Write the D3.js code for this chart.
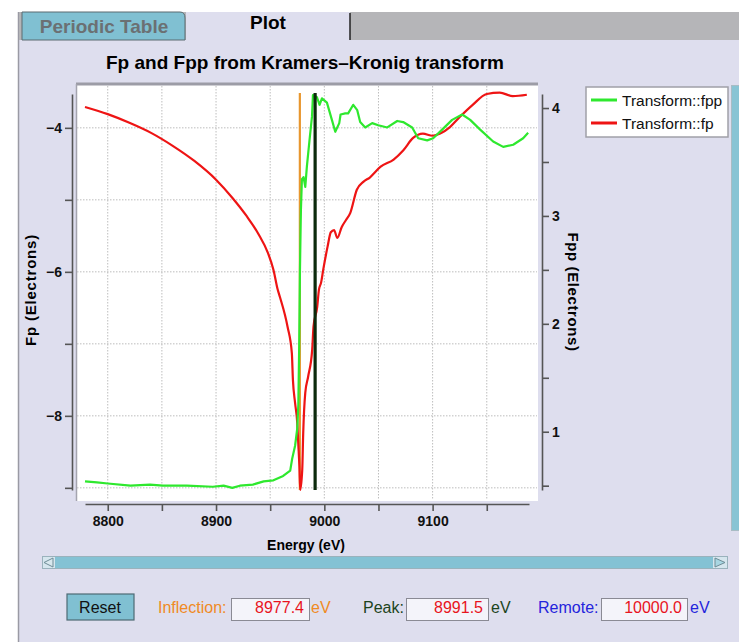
<!DOCTYPE html>
<html>
<head>
<meta charset="utf-8">
<script src="https://cdn.jsdelivr.net/npm/d3@7"></script>
<style>
  body { margin: 0; background: #ffffff; }
  svg { display: block; font-family: "Liberation Sans", Arial, sans-serif; }
</style>
</head>
<body>
<div id="chart-container"></div>
<script>
// fp (left axis)
const fpEnergy = [8779, 8800, 8820, 8840, 8860, 8880, 8900, 8915, 8928, 8939, 8948,
  8953, 8957, 8959, 8966, 8970, 8971, 8973, 8975, 8976, 8977, 8977.7, 8979.6, 8980.5, 8982.4, 8985,
  8988.8, 8990, 8993.4, 8995, 8997, 8999, 9003, 9006, 9009, 9012, 9016, 9020, 9024, 9030, 9036, 9042,
  9052, 9064, 9073, 9082, 9091, 9100, 9107, 9116, 9125, 9137, 9150, 9162, 9174, 9187];
const fpValues = [-3.71, -3.81, -3.93, -4.07, -4.25, -4.46, -4.72, -4.97, -5.22, -5.47, -5.74,
  -5.97, -6.25, -6.35, -6.76, -7.13, -7.5, -7.82, -8.1, -8.4, -8.71, -9.03, -8.75, -8.24, -7.68, -7.46,
  -7.08, -6.76, -6.49, -6.25, -6.15, -5.97, -5.65, -5.45, -5.42, -5.53, -5.38, -5.28, -5.18, -4.86, -4.75, -4.69,
  -4.54, -4.44, -4.31, -4.14, -4.08, -4.11, -4.08, -3.99, -3.85, -3.68, -3.53, -3.51, -3.56, -3.54];

// fpp (right axis)
const fppEnergy = [8779, 8790, 8800, 8821, 8839, 8851, 8873, 8897, 8907, 8915, 8922, 8934, 8944, 8953,
  8962, 8968.5, 8970.3, 8973, 8975, 8976, 8976.8, 8977.5, 8978.2, 8978.4, 8979.3, 8980.8, 8982.4, 8983.9,
  8986.3, 8988.6, 8989.5, 8993.2, 8995.6, 8997.8, 9002.4, 9007, 9010.1, 9013.8, 9015, 9019.3, 9022, 9026.7,
  9030.4, 9033.1, 9037.8, 9044.2, 9049.8, 9058.1, 9067.3, 9072.8, 9081.1, 9086.7, 9095, 9100.5, 9108.8,
  9118, 9127.3, 9134.7, 9143.9, 9155.9, 9165.2, 9174.4, 9183.6, 9188.2];
const fppValues = [0.54, 0.53, 0.52, 0.5, 0.51, 0.5, 0.5, 0.49, 0.5, 0.48, 0.5, 0.51, 0.54, 0.55,
  0.59, 0.64, 0.75, 0.87, 1.03, 1.25, 1.8, 2.5, 2.95, 3.06, 3.34, 3.36, 3.27, 3.46,
  3.7, 3.92, 4.12, 4.1, 4.03, 4.09, 4.05, 3.89, 3.78, 3.86, 3.94, 3.95, 3.95, 4.03,
  3.98, 3.87, 3.82, 3.86, 3.84, 3.82, 3.88, 3.87, 3.82, 3.72, 3.7, 3.72, 3.8,
  3.89, 3.94, 3.89, 3.8, 3.69, 3.64, 3.66, 3.72, 3.77];

const markerNames = ["Inflection", "Peak", "Remote"];
const markerEnergies = [8977.4, 8991.5, 10000.0];
const markerColors = ["#e8962e", "#0c2a0c", "#2020e0"];

const xTicks = [8800, 8900, 9000, 9100];
const fpTicks = [-4, -6, -8];
const fppTicks = [1, 2, 3, 4];
const seriesNames = ["Transform::fpp", "Transform::fp"];

const width = 739;
const height = 642;
const bg = "#dedeee";
const plot = { left: 85, right: 529, top: 94, bottom: 490 };

const svg = d3.select("#chart-container")
  .append("svg")
  .attr("width", width)
  .attr("height", height);

// window chrome
svg.append("rect").attr("x", 19).attr("y", 40).attr("width", width - 19).attr("height", height - 40).attr("fill", bg);
svg.append("line").attr("x1", 18.5).attr("x2", 18.5).attr("y1", 12).attr("y2", height).attr("stroke", "#9a9aa4").attr("stroke-width", 1.5);
svg.append("rect").attr("x", 19).attr("y", 12).attr("width", width - 19).attr("height", 28).attr("fill", "#b5b5b8");
svg.append("path")
  .attr("d", "M22,40 L22,12 L180,12 Q185,12 185,18 L185,40 Z")
  .attr("fill", "#80c0d2").attr("stroke", "#5a6a70").attr("stroke-width", 1);
svg.append("rect").attr("x", 186).attr("y", 12).attr("width", 164).attr("height", 29).attr("fill", bg);
svg.append("line").attr("x1", 350).attr("x2", 350).attr("y1", 13).attr("y2", 40).attr("stroke", "#222").attr("stroke-width", 1.5);
svg.append("text").attr("x", 104).attr("y", 33).attr("text-anchor", "middle")
  .style("font-size", "19px").style("font-weight", "bold").attr("fill", "#6b7073").text("Periodic Table");
svg.append("text").attr("x", 268).attr("y", 29).attr("text-anchor", "middle")
  .style("font-size", "19px").style("font-weight", "bold").attr("fill", "#000").text("Plot");

// right vertical strip
svg.append("rect").attr("x", 731.5).attr("y", 85.5).attr("width", 9).attr("height", 445)
  .attr("fill", "#88c4d4").attr("stroke", "#a8bcc4");

// title
svg.append("text").attr("x", 305).attr("y", 69).attr("text-anchor", "middle")
  .style("font-size", "19px").style("font-weight", "bold").attr("fill", "#000")
  .text("Fp and Fpp from Kramers\u2013Kronig transform");

// scales
const x = d3.scaleLinear().domain([8779, 9189]).range([plot.left, plot.right]);
const yFp = d3.scaleLinear().domain([-9.03, -3.53]).range([plot.bottom, plot.top]);
const yFpp = d3.scaleLinear().domain([0.46, 4.13]).range([plot.bottom, plot.top]);

// plotting area
svg.append("rect").attr("x", 76).attr("y", 84).attr("width", 462).attr("height", 417).attr("fill", "#fff");
svg.append("line").attr("x1", 76).attr("x2", 538).attr("y1", 84).attr("y2", 84).attr("stroke", "#9c9ca6").attr("stroke-width", 3);
svg.append("line").attr("x1", 76.5).attr("x2", 76.5).attr("y1", 84).attr("y2", 501).attr("stroke", "#a4a4ae").attr("stroke-width", 1.5);

const minorX = d3.range(8800, 9151, 50);
const minorFp = d3.range(-9, -3.9, 1);
const grid = svg.append("g").attr("stroke", "#bdbdbd").attr("stroke-dasharray", "1.5,1.5").attr("stroke-width", 1);
grid.selectAll(".gx").data(minorX).join("line")
  .attr("x1", (d) => x(d)).attr("x2", (d) => x(d)).attr("y1", 86).attr("y2", 500);
grid.selectAll(".gy").data(minorFp).join("line")
  .attr("x1", 77).attr("x2", 537).attr("y1", (d) => yFp(d)).attr("y2", (d) => yFp(d));

// inflection marker under the curves
const markerLine = (i, w) => svg.append("line")
  .attr("x1", x(markerEnergies[i])).attr("x2", x(markerEnergies[i]))
  .attr("y1", plot.top - 1).attr("y2", plot.bottom)
  .attr("stroke", markerColors[i]).attr("stroke-width", w);
markerLine(0, 2.2);

const fpData = fpEnergy.map((e, i) => [e, fpValues[i]]);
const fppData = fppEnergy.map((e, i) => [e, fppValues[i]]);

svg.append("path").datum(fpData)
  .attr("fill", "none").attr("stroke", "#ee1414").attr("stroke-width", 2.2).attr("stroke-linejoin", "round")
  .attr("d", d3.line().x((d) => x(d[0])).y((d) => yFp(d[1])).curve(d3.curveMonotoneX));
svg.append("path").datum(fppData)
  .attr("fill", "none").attr("stroke", "#2ee82e").attr("stroke-width", 2.2).attr("stroke-linejoin", "round")
  .attr("d", d3.line().x((d) => x(d[0])).y((d) => yFpp(d[1])));

// peak marker on top
markerLine(1, 3.2);

// axes
const styleAxis = (g) => {
  g.select(".domain").attr("stroke", "#555").attr("stroke-width", 1.6);
  g.selectAll(".tick line").attr("stroke", "#555").attr("stroke-width", 1.6);
  g.selectAll(".tick text").attr("fill", "#111").style("font-size", "14px").style("font-weight", "bold")
    .style("font-family", "'Liberation Sans', Arial, sans-serif");
};
const minus = (d) => String(d).replace("-", "\u2212");

svg.append("g")
  .attr("transform", "translate(72,0)")
  .call(d3.axisLeft(yFp).tickValues(minorFp).tickSize(7).tickSizeOuter(0).tickPadding(3)
    .tickFormat((d) => (fpTicks.includes(d) ? minus(d) : "")))
  .call(styleAxis);

svg.append("g")
  .attr("transform", "translate(542,0)")
  .call(d3.axisRight(yFpp).tickValues(d3.range(0.5, 4.01, 0.5)).tickSize(7).tickSizeOuter(0).tickPadding(3)
    .tickFormat((d) => (fppTicks.includes(d) ? String(d) : "")))
  .call(styleAxis);

svg.append("g")
  .attr("transform", "translate(0,504)")
  .call(d3.axisBottom(x).tickValues(minorX).tickSize(7).tickSizeOuter(0).tickPadding(5)
    .tickFormat((d) => (xTicks.includes(d) ? String(d) : "")))
  .call(styleAxis);

// axis titles
svg.append("text").attr("x", 306).attr("y", 550).attr("text-anchor", "middle")
  .style("font-size", "14px").style("font-weight", "bold").text("Energy (eV)");
svg.append("text").attr("transform", "translate(36,290) rotate(-90)").attr("text-anchor", "middle")
  .style("font-size", "15px").style("font-weight", "bold").style("letter-spacing", "0.8px").text("Fp (Electrons)");
svg.append("text").attr("transform", "translate(568,292) rotate(90)").attr("text-anchor", "middle")
  .style("font-size", "15px").style("font-weight", "bold").style("letter-spacing", "0.6px").text("Fpp (Electrons)");

// legend
const legend = svg.append("g").attr("transform", "translate(586,87)");
legend.append("rect").attr("width", 142).attr("height", 50).attr("fill", "#fff")
  .attr("stroke", "#a0a0a8").attr("stroke-width", 1.5);
const legendColors = ["#2ee82e", "#ee1414"];
seriesNames.forEach((name, i) => {
  const g = legend.append("g").attr("transform", `translate(0,${13 + i * 23})`);
  g.append("line").attr("x1", 5).attr("x2", 31).attr("stroke", legendColors[i]).attr("stroke-width", 3);
  g.append("text").attr("x", 36).attr("y", 5.5).style("font-size", "15.5px").attr("fill", "#111").text(name);
});

// horizontal scrollbar
const sb = svg.append("g");
sb.append("rect").attr("x", 42.5).attr("y", 556.5).attr("width", 685).attr("height", 12)
  .attr("fill", "#d6e6ee").attr("stroke", "#9ab2bc");
sb.append("rect").attr("x", 55).attr("y", 557).attr("width", 658).attr("height", 11).attr("fill", "#84c2d4");
sb.append("path").attr("d", "M53,558 L44,562.5 L53,567 Z").attr("fill", "#d8e8ee").attr("stroke", "#6f8c96");
sb.append("path").attr("d", "M715,558 L725,562.5 L715,567 Z").attr("fill", "#a8d6e2").attr("stroke", "#6f8c96");

// controls
const ctl = svg.append("g").style("font-size", "16px");
ctl.append("rect").attr("x", 67).attr("y", 594).attr("width", 67).attr("height", 26)
  .attr("fill", "#80c0d2").attr("stroke", "#4e6a74").attr("stroke-width", 1.2);
ctl.append("text").attr("x", 100).attr("y", 613).attr("text-anchor", "middle").attr("fill", "#111").text("Reset");

const fields = [
  { labelX: 158, boxX: 231, boxW: 78, unitX: 311 },
  { labelX: 363, boxX: 406, boxW: 82, unitX: 491 },
  { labelX: 538, boxX: 601, boxW: 86, unitX: 690 },
];
const labelColors = ["#f08a24", "#1c441c", "#2424dc"];
fields.forEach((f, i) => {
  ctl.append("text").attr("x", f.labelX).attr("y", 613).attr("fill", labelColors[i]).text(markerNames[i] + ":");
  ctl.append("rect").attr("x", f.boxX + 0.5).attr("y", 598.5).attr("width", f.boxW).attr("height", 22)
    .attr("fill", "#f4f4fa").attr("stroke", "#8a8a94");
  ctl.append("text").attr("x", f.boxX + f.boxW - 5).attr("y", 613).attr("text-anchor", "end")
    .attr("fill", "#e8141e").text(markerEnergies[i].toFixed(1));
  ctl.append("text").attr("x", f.unitX).attr("y", 613).attr("fill", labelColors[i]).text("eV");
});
</script>
</body>
</html>
